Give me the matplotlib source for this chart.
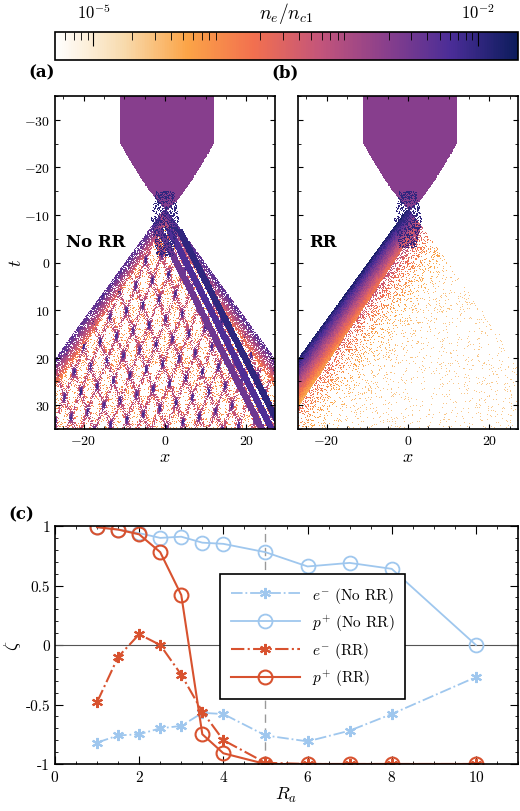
import numpy as np
import matplotlib
matplotlib.use("Agg")
import matplotlib.pyplot as plt
from matplotlib.colors import LinearSegmentedColormap, LogNorm
from matplotlib.ticker import MultipleLocator, AutoMinorLocator

plt.rcParams.update({"font.family": "serif", "font.serif": ["cmr10", "DejaVu Serif"],
                     "mathtext.fontset": "cm", "axes.unicode_minus": False,
                     "axes.formatter.use_mathtext": True, "font.size": 11})

# ---- panel (c) data ----
Ra = [1, 1.5, 2, 2.5, 3, 3.5, 4, 5, 6, 7, 8, 10]
e_norr = [-0.82, -0.76, -0.75, -0.70, -0.68, -0.57, -0.58, -0.76, -0.81, -0.72, -0.58, -0.27]
p_norr = [0.99, 0.97, 0.94, 0.90, 0.91, 0.86, 0.85, 0.78, 0.66, 0.69, 0.64, 0.0]
e_rr = [-0.48, -0.10, 0.09, 0.0, -0.25, -0.56, -0.80, -0.99, -1.0, -1.0, -1.0, -1.0]
p_rr = [0.99, 0.97, 0.93, 0.78, 0.42, -0.75, -0.91, -1.0, -1.0, -1.0, -1.0, -1.0]
labels = [r"$e^{-}$ (No RR)", r"$p^{+}$ (No RR)", r"$e^{-}$ (RR)", r"$p^{+}$ (RR)"]
c_blue, c_red = "#9fc7ee", "#d8522f"

cmap = LinearSegmentedColormap.from_list("dens", ["#ffffff", "#f8dcb0", "#fba447", "#f2704f",
                                                   "#c4557a", "#8a3f8c", "#4a2d97", "#0c1c5c"])
vmin, vmax = 10**-5.3, 10**-1.69

# ---- density maps (schematic) ----
x = np.linspace(-27, 27, 360)
t = np.linspace(-35, 35, 460)
X, T = np.meshgrid(x, t)
h = np.abs(np.modf(np.sin(X * 127.1 + T * 311.7) * 43758.5453)[0])
s = 0.85

def funnel():
    w = np.where(T < -25, 11.5, 11.5 * np.clip((-11 - T) / 14, 0, 1) ** 0.8)
    return (np.abs(X - 0.5) < w) & (T < -11)

def map_a():
    L = np.full(X.shape, np.nan)
    L[funnel()] = -2.7
    tt = T + 11
    cone = (tt > 0) & (np.abs(X) < s * tt + 0.5)
    stri = np.cos(0.9 * (X + 0.45 * tt)) ** 8 + np.cos(0.7 * (X - 0.4 * tt)) ** 8
    val = -4.2 + 0.9 * stri + 0.5 * h
    keep = cone & (h < 0.12 + 0.5 * stri)
    L[keep] = val[keep]
    for sign in (-1, 1):
        d = np.abs(X - sign * s * tt)
        edge = cone & (d < 2.5 + 0.06 * tt) & (h < 0.8)
        L[edge] = (-2.2 - 0.35 * d - 0.3 * h)[edge]
    for k, off in enumerate([0, 4, 8]):
        beam = (tt > 4) & (np.abs(X - 0.6 * (tt - off) - 1) < 0.9)
        L[beam] = -2.0 - 0.25 * k
    cross = (tt > -4) & (tt < 10) & (np.abs(X) < 3.5 - 0.2 * np.abs(tt - 2)) & (h > 0.55)
    L[cross] = -2.0
    return L

def map_b():
    L = np.full(X.shape, np.nan)
    L[funnel()] = -2.7
    tt = T + 11
    cone = (tt > 0) & (np.abs(X) < s * tt + 0.5)
    d = X + s * tt
    band = cone & (d < 5 + 0.08 * tt)
    L[band] = (-1.8 - 0.3 * d - 0.3 * h)[band]
    prob = np.exp(-np.clip(d - 5, 0, None) / 6)
    sp = cone & ~band & (h < 0.04 + 0.6 * prob)
    L[sp] = (-4.6 + 1.6 * prob + 0.5 * h)[sp]
    cross = (tt > -4) & (tt < 8) & (np.abs(X) < 3.5 - 0.25 * np.abs(tt - 2)) & (h > 0.55)
    L[cross] = -2.0
    return L

fig = plt.figure(figsize=(5.2, 8.12), dpi=100)
W, H = 520, 812
def ax_px(l, t_, r, b):
    return fig.add_axes([l / W, 1 - b / H, (r - l) / W, (b - t_) / H])

cax = ax_px(55, 33, 518, 61)
axa = ax_px(55, 97, 275, 430)
axb = ax_px(298, 97, 518, 430)
axc = ax_px(55, 527, 518, 765)

for ax, L, lab, tag in ((axa, map_a(), "No RR", "(a)"), (axb, map_b(), "RR", "(b)")):
    im = ax.pcolormesh(x, t, 10.0 ** L, cmap=cmap, norm=LogNorm(vmin, vmax), shading="auto", rasterized=True)
    ax.set_xlim(-27, 27); ax.set_ylim(35, -35)
    ax.set_xticks([-20, 0, 20]); ax.set_yticks([-30, -20, -10, 0, 10, 20, 30])
    ax.xaxis.set_minor_locator(MultipleLocator(5)); ax.yaxis.set_minor_locator(MultipleLocator(5))
    ax.tick_params(which="both", direction="in", top=True, right=True, labelsize=10)
    ax.set_xlabel(r"$x$", fontsize=13, labelpad=1)
    ax.text(0.05, 0.55, lab, transform=ax.transAxes, fontsize=12, fontweight="bold", family="DejaVu Serif")
    ax.text(-0.12, 1.06, tag, transform=ax.transAxes, fontsize=12, fontweight="bold", family="DejaVu Serif")
    for sp_ in ax.spines.values(): sp_.set_linewidth(1.2)
axa.set_ylabel(r"$t$", fontsize=13, labelpad=0)
axb.set_yticklabels([])

cb = fig.colorbar(im, cax=cax, orientation="horizontal")
cb.outline.set_linewidth(1.2)
cax.xaxis.set_ticks_position("top")
cax.set_xticks([1e-5, 1e-2]); cax.set_xticklabels([r"$10^{-5}$", r"$10^{-2}$"])
cax.tick_params(which="both", direction="in", top=True, bottom=False, labelsize=12, length=10, pad=8)
cax.tick_params(which="minor", length=6)
cax.text(0.5, 1.25, r"$n_e/n_{c1}$", transform=cax.transAxes, ha="center", va="bottom", fontsize=14)

axc.axhline(0, color="#555555", lw=0.8)
axc.axvline(5, color="#999999", lw=1, ls=(0, (6, 4)))
ast = (6, 2, 0)
axc.plot(Ra, e_norr, ls="-.", color=c_blue, marker=ast, ms=8, mew=1.5, lw=1.3, label=labels[0])
axc.plot(Ra, p_norr, ls="-", color=c_blue, marker="o", ms=10, mfc="none", mew=1.3, lw=1.3, label=labels[1])
axc.plot(Ra, e_rr, ls="-.", color=c_red, marker=ast, ms=8, mew=1.5, lw=1.5, label=labels[2])
axc.plot(Ra, p_rr, ls="-", color=c_red, marker="o", ms=10, mfc="none", mew=1.5, lw=1.5, label=labels[3])
axc.set_xlim(0, 11); axc.set_ylim(-1, 1)
axc.set_xticks([0, 2, 4, 6, 8, 10]); axc.set_yticks([-1, -0.5, 0, 0.5, 1])
axc.set_yticklabels(["-1", "-0.5", "0", "0.5", "1"])
axc.xaxis.set_minor_locator(AutoMinorLocator(4)); axc.yaxis.set_minor_locator(AutoMinorLocator(5))
axc.tick_params(which="both", direction="in", top=True, right=True, labelsize=11)
axc.tick_params(which="major", length=6)
axc.set_xlabel(r"$R_a$", fontsize=13, labelpad=1)
axc.set_ylabel(r"$\zeta$", fontsize=13, labelpad=2)
axc.text(-0.1, 1.03, "(c)", transform=axc.transAxes, fontsize=12, fontweight="bold", family="DejaVu Serif")
for sp_ in axc.spines.values(): sp_.set_linewidth(1.2)
leg = axc.legend(loc="upper left", bbox_to_anchor=(0.34, 0.83), fancybox=False, edgecolor="black",
                 framealpha=1, handlelength=4.5, fontsize=11, borderpad=0.7)
leg.get_frame().set_linewidth(1.2)

fig.savefig("out.png", dpi=100)
